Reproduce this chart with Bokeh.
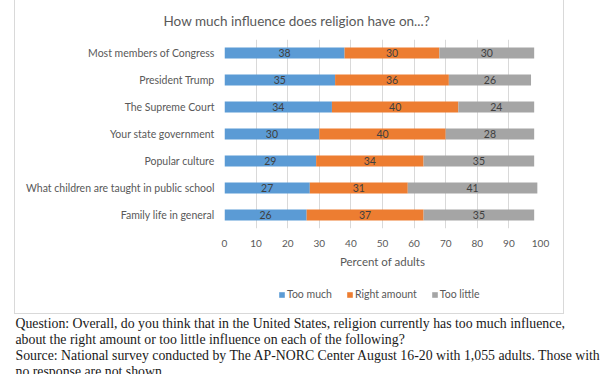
from bokeh.plotting import figure
from bokeh.layouts import column
from bokeh.models import Legend, LegendItem, Label, ColumnDataSource, FixedTicker
from bokeh.core.properties import value
from bokeh.embed import file_html
from bokeh.resources import INLINE

categories = ["Most members of Congress", "President Trump", "The Supreme Court",
              "Your state government", "Popular culture",
              "What children are taught in public school", "Family life in general"]
too_much = [38, 35, 34, 30, 29, 27, 26]
right_amount = [30, 36, 40, 40, 34, 31, 37]
too_little = [30, 26, 24, 28, 35, 41, 35]
series_names = ["Too much", "Right amount", "Too little"]
colors = ["#5B9BD5", "#ED7D31", "#A5A5A5"]
x_ticks = list(range(0, 101, 10))

title_text = "How much influence does religion have on...?"
x_label = "Percent of adults"
notes = [
    "Question: Overall, do you think that in the United States, religion currently has too much influence,",
    "about the right amount or too little influence on each of the following?",
    "Source: National survey conducted by The AP-NORC Center August 16-20 with 1,055 adults. Those with",
    "no response are not shown.",
]

FONT = "Lato"
GREY = "#595959"
BOX = "1px solid #D9D9D9"

source = ColumnDataSource({"cat": categories, "Too much": too_much,
                           "Right amount": right_amount, "Too little": too_little})

# ---------------- main chart ----------------
p = figure(frame_width=316, frame_height=189, y_range=list(reversed(categories)), x_range=(0, 100),
           output_backend="svg", toolbar_location=None,
           min_border_left=209, min_border_right=23, min_border_top=39, min_border_bottom=48)
p.outline_line_color = None
p.border_fill_alpha = 0
p.background_fill_alpha = 0

renderers = p.hbar_stack(series_names, y="cat", height=0.41, color=colors,
                         line_color=None, source=source)

series_vals = [too_much, right_amount, too_little]
lefts = [0] * len(categories)
for vals in series_vals:
    centers = [l + v / 2 for l, v in zip(lefts, vals)]
    p.text(x=centers, y=categories, text=[str(v) for v in vals],
           text_align="center", text_baseline="middle",
           text_font_size="10.5px", text_color="#404040", text_font=value(FONT))
    lefts = [l + v for l, v in zip(lefts, vals)]

p.xaxis.ticker = FixedTicker(ticks=x_ticks)
p.xaxis.axis_line_color = None
p.xaxis.major_tick_line_color = None
p.xaxis.minor_tick_line_color = None
p.xaxis.major_tick_out = 0
p.xaxis.major_label_standoff = 11
p.xaxis.major_label_text_font_size = "10px"
p.xaxis.major_label_text_color = GREY
p.xaxis.major_label_text_font = FONT
p.xaxis.axis_label = x_label
p.xaxis.axis_label_text_font_size = "11.5px"
p.xaxis.axis_label_text_font_style = "normal"
p.xaxis.axis_label_text_color = GREY
p.xaxis.axis_label_text_font = FONT
p.xaxis.axis_label_standoff = 5

p.yaxis.axis_line_color = None
p.yaxis.major_tick_line_color = None
p.yaxis.minor_tick_line_color = None
p.yaxis.major_tick_out = 0
p.yaxis.major_label_standoff = 10
p.yaxis.major_label_text_font_size = "10.5px"
p.yaxis.major_label_text_color = GREY
p.yaxis.major_label_text_font = FONT

p.xgrid.grid_line_color = "#D9D9D9"
p.ygrid.grid_line_color = None

p.title.text = title_text
p.title.align = "left"
p.title.offset = -61
p.title.standoff = 21
p.title.text_line_height = 0.7
p.title.text_font = FONT
p.title.text_font_size = "13.5px"
p.title.text_font_style = "normal"
p.title.text_color = GREY

# ---------------- legend strip (inside the chart box) ----------------
leg = figure(width=548, height=37, x_range=(0, 100), y_range=list(reversed(categories)),
             title=None, x_axis_location=None, y_axis_location=None,
             output_backend="svg", toolbar_location=None,
             min_border_left=209, min_border_right=23, min_border_top=0, min_border_bottom=0)
leg.outline_line_color = None
leg.grid.visible = False
leg.border_fill_alpha = 0
leg.background_fill_alpha = 0
swatches = leg.hbar_stack(series_names, y="cat", height=0.41, color=colors,
                          line_color=None, source=source)
for r in swatches:
    r.visible = False
legend = Legend(items=[LegendItem(label=n, renderers=[r]) for n, r in zip(series_names, swatches)],
                orientation="horizontal", location=(54, 13),
                glyph_width=7, glyph_height=7, label_height=7, label_standoff=2,
                spacing=14, padding=0, margin=0,
                label_text_font_size="10.5px", label_text_color=GREY, label_text_font=FONT,
                inactive_fill_alpha=0,
                border_line_color=None, background_fill_alpha=0)
leg.add_layout(legend, "center")

box = column(p, leg, margin=(0, 0, 0, 14),
             styles={"border-left": BOX, "border-right": BOX, "border-bottom": BOX})

# ---------------- notes below the box ----------------
nf = figure(width=612, height=60, x_range=(0, 1), y_range=(0, 1), title=None,
            x_axis_location=None, y_axis_location=None,
            output_backend="svg", toolbar_location=None, min_border=0)
nf.outline_line_color = None
nf.grid.visible = False
for i, t in enumerate(notes):
    nf.add_layout(Label(x=15, y=51 - 16 * i, x_units="screen", y_units="screen", text=t,
                        text_align="left", text_baseline="middle", text_font_size="13.8px",
                        text_color="#1a1a1a", text_font="Liberation Serif"))

layout = column(box, nf)
open("out.html", "w").write(file_html(layout, INLINE))
